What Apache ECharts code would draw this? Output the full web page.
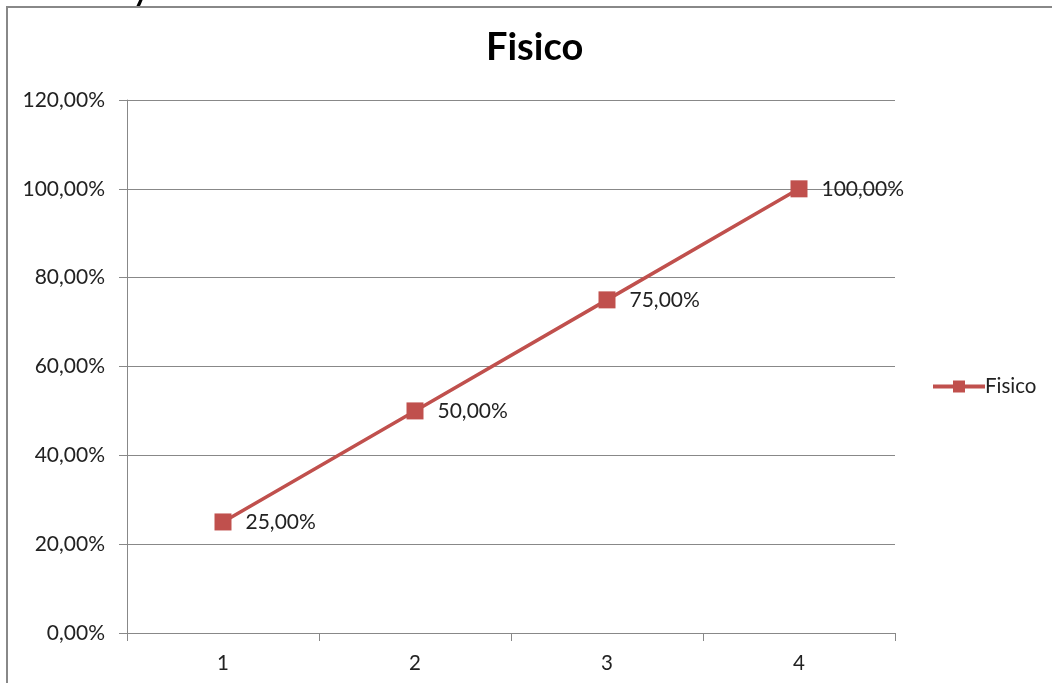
<!DOCTYPE html>
<html>
<head>
<meta charset="utf-8">
<script src="https://cdn.jsdelivr.net/npm/echarts@6/dist/echarts.min.js"></script>
<style>
  html, body { margin: 0; padding: 0; background: #fff; }
  #chart { width: 1052px; height: 683px; }
</style>
</head>
<body>
<div id="chart"></div>
<script>
// dati del grafico
const categories = ["1", "2", "3", "4"];
const fisicoValues = [25, 50, 75, 100];
const seriesName = "Fisico";

const fmt = (v) => v.toFixed(2).replace(".", ",") + "%";

var myChart = echarts.init(document.getElementById("chart"));

let option = {
  backgroundColor: "#fff",
  textStyle: { fontFamily: "Lato, 'Open Sans', sans-serif" },
  title: {
    text: "Fisico",
    left: 481,
    top: 24,
    textStyle: { fontSize: 38, fontWeight: "bold", color: "#000", fontFamily: "Lato, sans-serif" },
  },
  legend: {
    data: [seriesName],
    orient: "vertical",
    left: 926,
    top: 371,
    itemWidth: 52,
    itemHeight: 15,
    textStyle: { fontSize: 20.5, color: "#222", padding: [0, 0, 0, -5] },
    lineStyle: { width: 4, color: "#C0504D" },
  },
  grid: { left: 127, right: 157, top: 100, bottom: 50 },
  xAxis: {
    type: "category",
    data: categories,
    boundaryGap: true,
    axisLine: { lineStyle: { color: "#888", width: 1 } },
    axisTick: { show: true, length: 8, lineStyle: { color: "#888" } },
    axisLabel: { fontSize: 20.5, color: "#222", margin: 20 },
  },
  yAxis: {
    type: "value",
    min: 0,
    max: 120,
    interval: 20,
    axisLine: { show: true, lineStyle: { color: "#888", width: 1 } },
    axisTick: { show: true, length: 8, lineStyle: { color: "#888" } },
    axisLabel: { fontSize: 21, color: "#222", margin: 22, formatter: (v) => fmt(v) },
    splitLine: { show: true, lineStyle: { color: "#888", width: 1 } },
  },
  series: [
    {
      name: seriesName,
      type: "line",
      data: fisicoValues,
      symbol: "rect",
      symbolSize: 17,
      itemStyle: { color: "#C0504D" },
      lineStyle: { color: "#C0504D", width: 3.5 },
      label: {
        show: true,
        position: "right",
        distance: 14,
        fontSize: 21,
        color: "#222",
        formatter: (p) => fmt(p.value),
      },
    },
  ],
  graphic: [
    {
      type: "polyline",
      shape: { points: [[7, 683], [7, 7], [1052, 7]] },
      style: { stroke: "#888", lineWidth: 2, fill: null },
      silent: true,
    },
    {
      type: "text",
      left: 133,
      top: -24,
      style: { text: "y", fontSize: 30, fontWeight: "bold", fill: "#000", fontFamily: "Lato, sans-serif" },
      silent: true,
    },
  ],
};
myChart.setOption(option);
</script>
</body>
</html>
